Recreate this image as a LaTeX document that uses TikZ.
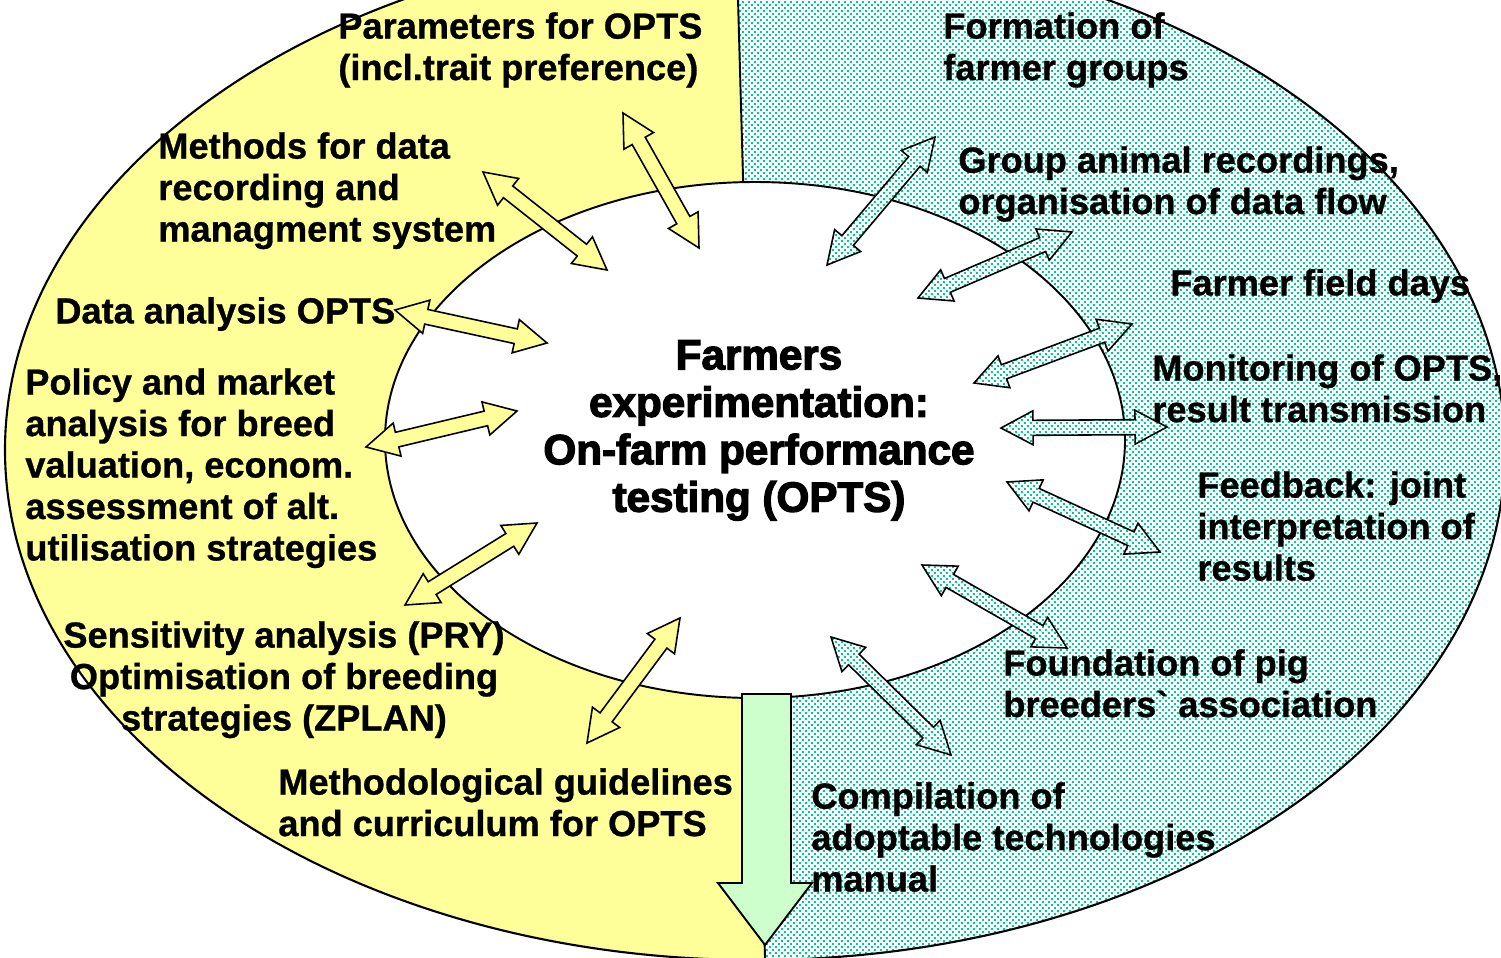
\documentclass[tikz,border=0pt]{standalone}
\usepackage{fontspec}
\setmainfont{Liberation Sans}
\newfontfamily\lblfont{Liberation Sans Bold}[FakeBold=0.8]
\newfontfamily\titlefont{Liberation Sans Bold}[FakeBold=3]
\usetikzlibrary{calc,patterns}
\definecolor{yel}{HTML}{FFFF99}
\definecolor{dotteal}{RGB}{0,200,150}
\definecolor{lgreen}{HTML}{CCFFCC}
\pgfdeclarepatterninherentlycolored{tealdots}{\pgfpointorigin}{\pgfpoint{3.41pt}{3.41pt}}{\pgfpoint{3.41pt}{3.41pt}}{%
  \pgfsetfillcolor{dotteal}%
  \pgfpathrectangle{\pgfpointorigin}{\pgfpoint{1.05pt}{1.05pt}}%
  \pgfpathrectangle{\pgfpoint{1.705pt}{1.705pt}}{\pgfpoint{1.05pt}{1.05pt}}%
  \pgfusepath{fill}}
\newcommand{\ArrHL}{0.64cm}
\newcommand{\ArrHW}{0.34cm}
\newcommand{\ArrSW}{0.15cm}
\newcommand{\dblarr}[3]{%
  \draw[#1] let \p1=(#2), \p2=(#3), \n1={atan2(\y2-\y1,\x2-\x1)} in
    (\p1) -- ($(\p1)+(\n1:\ArrHL)+({\n1+90}:\ArrHW)$) -- ($(\p1)+(\n1:\ArrHL)+({\n1+90}:\ArrSW)$)
    -- ($(\p2)+({\n1+180}:\ArrHL)+({\n1+90}:\ArrSW)$) -- ($(\p2)+({\n1+180}:\ArrHL)+({\n1+90}:\ArrHW)$)
    -- (\p2) -- ($(\p2)+({\n1+180}:\ArrHL)+({\n1-90}:\ArrHW)$) -- ($(\p2)+({\n1+180}:\ArrHL)+({\n1-90}:\ArrSW)$)
    -- ($(\p1)+(\n1:\ArrHL)+({\n1-90}:\ArrSW)$) -- ($(\p1)+(\n1:\ArrHL)+({\n1-90}:\ArrHW)$) -- cycle;}
\tikzset{
  yarrow/.style={draw=black, line width=0.9pt, fill=yel, line join=miter},
  tarrow/.style={draw=black, line width=0.9pt, preaction={fill=white}, pattern=tealdots, line join=miter},
  lbl/.style={font=\lblfont\fontsize{20.6}{23.6}\selectfont, inner sep=0pt, anchor=north west, align=left, execute at begin node=\strut},
  ctitle/.style={font=\titlefont\fontsize{24}{27}\selectfont, inner sep=0pt, anchor=north, align=center, execute at begin node=\strut},
  tealfill/.style={pattern=tealdots}
}
\begin{document}
\begin{tikzpicture}[x=0.02cm, y=-0.02cm]
\useasboundingbox (0,0) rectangle (1501,957);
\begin{scope}
\clip (0,0) rectangle (1501,957);
% outer ellipse halves
\begin{scope}
  \clip (755,450) ellipse [x radius=750, y radius=510];
  \fill[yel] (-10,-100) -- (735.2,-100) -- (766.2,1000) -- (-10,1000) -- cycle;
  \fill[white] (735.2,-100) -- (1600,-100) -- (1600,1000) -- (766.2,1000) -- cycle;
  \fill[tealfill] (735.2,-100) -- (1600,-100) -- (1600,1000) -- (766.2,1000) -- cycle;
  \draw[line width=1.1pt] (735.2,-100) -- (766.2,1000);
\end{scope}
\draw[line width=1.2pt] (755,450) ellipse [x radius=750, y radius=510];
% inner ellipse
\draw[line width=1.1pt, fill=white] (755,440) ellipse [x radius=370, y radius=258];

% down arrow
\draw[line width=1.1pt, fill=lgreen, line join=miter] (742,694) -- (791,694) -- (791,883) -- (812,883) -- (765,945) -- (718,883) -- (742,883) -- cycle;

% arrow end points
\coordinate (ya1s) at (623,113); \coordinate (ya1e) at (699,248);
\coordinate (ya2s) at (483,172); \coordinate (ya2e) at (607,270);
\coordinate (ya3s) at (395,310); \coordinate (ya3e) at (547,343);
\coordinate (ya4s) at (366,447); \coordinate (ya4e) at (517,411);
\coordinate (ya5s) at (405,605); \coordinate (ya5e) at (537,523);
\coordinate (ya6s) at (587,743); \coordinate (ya6e) at (680,618);
\coordinate (ta1s) at (935,137); \coordinate (ta1e) at (827,265);
\coordinate (ta2s) at (1072,232); \coordinate (ta2e) at (918,298);
\coordinate (ta3s) at (1132,324); \coordinate (ta3e) at (974,383);
\coordinate (ta4s) at (1167,427); \coordinate (ta4e) at (1001,428);
\coordinate (ta5s) at (1007,482); \coordinate (ta5e) at (1160,552);
\coordinate (ta6s) at (922,565); \coordinate (ta6e) at (1067,648);
\coordinate (ta7s) at (831,637); \coordinate (ta7e) at (951,755);

\dblarr{yarrow}{ya1s}{ya1e}
\dblarr{yarrow}{ya2s}{ya2e}
\dblarr{yarrow}{ya3s}{ya3e}
\dblarr{yarrow}{ya4s}{ya4e}
\dblarr{yarrow}{ya5s}{ya5e}
\dblarr{yarrow}{ya6s}{ya6e}
\dblarr{tarrow}{ta1s}{ta1e}
\dblarr{tarrow}{ta2s}{ta2e}
\dblarr{tarrow}{ta3s}{ta3e}
\dblarr{tarrow}{ta4s}{ta4e}
\dblarr{tarrow}{ta5s}{ta5e}
\dblarr{tarrow}{ta6s}{ta6e}
\dblarr{tarrow}{ta7s}{ta7e}

% texts
\node[ctitle] (center) at (759,340) {Farmers\\experimentation:\\On-farm performance\\testing (OPTS)};
\node[lbl] (param) at (338,12) {Parameters for OPTS\\(incl.trait preference)};
\node[lbl] (methods) at (158,132) {Methods for data\\recording and\\managment system};
\node[lbl] (dataan) at (55,294) {Data analysis OPTS};
\node[lbl] (policy) at (25,368) {Policy and market\\analysis for breed\\valuation, econom.\\assessment of alt.\\utilisation strategies};
\node[lbl, anchor=north, align=center] (sens) at (284,621) {Sensitivity analysis (PRY)\\Optimisation of breeding\\strategies (ZPLAN)};
\node[lbl] (guide) at (278,768) {Methodological guidelines\\and curriculum for OPTS};
\node[lbl] (formation) at (943,12) {Formation of\\farmer groups};
\node[lbl] (group) at (958,146) {Group animal recordings,\\organisation of data flow};
\node[lbl] (field) at (1170,266) {Farmer field days};
\node[lbl] (monitor) at (1152,354) {Monitoring of OPTS,\\result transmission};
\node[lbl] (feedback) at (1197,471) {Feedback: joint\\interpretation of\\results};
\node[lbl] (found) at (1003,649) {Foundation of pig\\breeders` association};
\node[lbl] (compil) at (811,782) {Compilation of\\adoptable technologies\\manual};
\end{scope}
\end{tikzpicture}
\end{document}
